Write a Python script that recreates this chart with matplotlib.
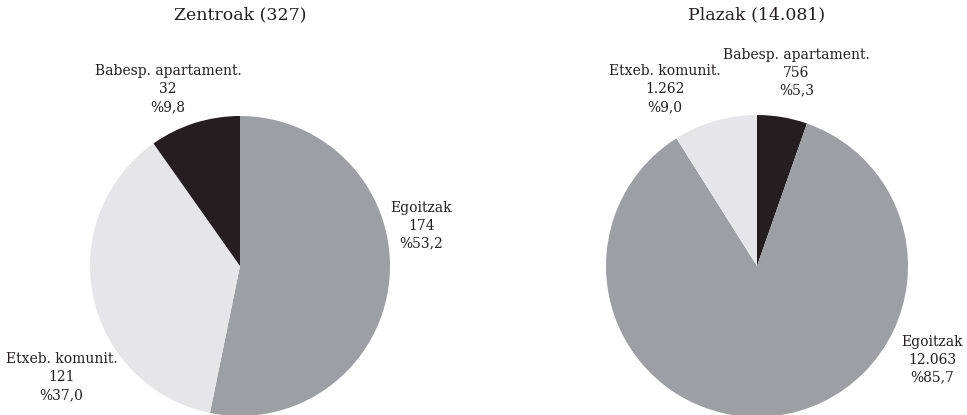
import matplotlib
matplotlib.use("Agg")
import matplotlib.pyplot as plt

plt.rcParams['font.family'] = ['DejaVu Serif']

# Left pie: Zentroak (327)
left_title = "Zentroak (327)"
left_cats = ["Egoitzak", "Etxeb. komunit.", "Babesp. apartament."]
left_vals = [174, 121, 32]
left_pcts = ["53,2", "37,0", "9,8"]
left_vals_txt = ["174", "121", "32"]

# Right pie: Plazak (14.081)
right_title = "Plazak (14.081)"
right_cats = ["Babesp. apartament.", "Egoitzak", "Etxeb. komunit."]
right_vals = [756, 12063, 1262]
right_pcts = ["5,3", "85,7", "9,0"]
right_vals_txt = ["756", "12.063", "1.262"]

colors = {"Egoitzak": "#9E9FA2", "Etxeb. komunit.": "#E6E6E8", "Babesp. apartament.": "#231F20"}
txt_color = "#231F20"

W, H = 967, 415
fig = plt.figure(figsize=(W/100, H/100), dpi=100)

def add_pie(cx, cy, r, cats, vals, vals_txt, pcts, label_pos, title):
    ax = fig.add_axes([(cx - r)/W, (H - (cy + r))/H, 2*r/W, 2*r/H])
    ax.pie(vals, colors=[colors[c] for c in cats], startangle=90,
           counterclock=False, radius=1.0,
           wedgeprops=dict(linewidth=0))
    ax.set_xlim(-1, 1)
    ax.set_ylim(-1, 1)
    ax.set_aspect('equal')
    ax.axis('off')
    for c, v, p in zip(cats, vals_txt, pcts):
        x, y = label_pos[c]
        ax.text(x, y, f"{c}\n{v}\n%{p}", ha='center', va='center',
                fontsize=10, color=txt_color, linespacing=1.35, clip_on=False)
    fig.text(cx/W, 1 - 15/H, title, ha='center', va='center', fontsize=12.5, color=txt_color)

add_pie(240, 266, 150, left_cats, left_vals, left_vals_txt, left_pcts,
        {"Babesp. apartament.": (-0.48, 1.18),
         "Egoitzak": (1.21, 0.27),
         "Etxeb. komunit.": (-1.19, -0.74)},
        left_title)

add_pie(757, 266, 151, right_cats, right_vals, right_vals_txt, right_pcts,
        {"Babesp. apartament.": (0.26, 1.28),
         "Etxeb. komunit.": (-0.61, 1.17),
         "Egoitzak": (1.16, -0.62)},
        right_title)

fig.savefig("out.png", dpi=100)
